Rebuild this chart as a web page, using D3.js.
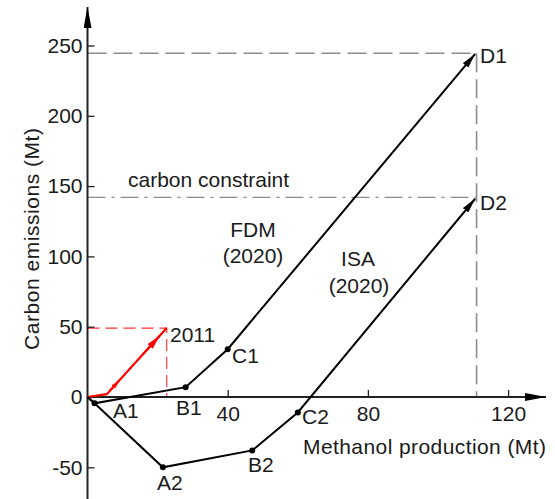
<!DOCTYPE html>
<html><head><meta charset="utf-8">
<script src="https://cdn.jsdelivr.net/npm/d3@7"></script>
<style>body{margin:0;background:#fff}svg{display:block}text{font-family:"Liberation Sans",Arial,sans-serif;fill:#1a1a1a}</style>
</head><body>
<script>
// ---- data ----
const xTicks = [40, 80, 120];
const yTicks = [-50, 0, 50, 100, 150, 200, 250];
const fdmPath = [[0,0],[2,-4.5],[28,7],[40,34],[110.6,244]];
const isaPath = [[0,0],[2,-4.5],[21.5,-50],[47,-38],[60,-11],[110.6,141]];
const path2011 = [[0,0],[5.5,2],[22.6,49]];
const carbonConstraint = 142;
const fdmTarget = [111, 244.5];
const point2011 = [22.6, 49];

const W = 555, H = 499;
const svg = d3.select("body").append("svg").attr("width", W).attr("height", H);
const x = d3.scaleLinear().domain([0, 120]).range([87.5, 508.1]);
const y = d3.scaleLinear().domain([-50, 250]).range([467.3, 45.5]);
const FS = 21;

const defs = svg.append("defs");
function marker(id, color, len, wid) {
  defs.append("marker").attr("id", id).attr("viewBox", `0 0 ${len} ${wid}`)
    .attr("refX", len).attr("refY", wid/2).attr("markerUnits", "userSpaceOnUse")
    .attr("markerWidth", len).attr("markerHeight", wid).attr("orient", "auto")
    .append("path").attr("d", `M0,0L${len},${wid/2}L0,${wid}Z`).attr("fill", color);
}
marker("ab", "#000", 15, 7);
marker("ar", "#f00", 14, 7);
marker("ars", "#f00", 8, 5);
marker("axis", "#000", 21, 8);

// gray dashed reference lines
const gray = "#8c8c8c";
svg.append("line").attr("x1", x(0)).attr("x2", x(fdmTarget[0])).attr("y1", y(fdmTarget[1])).attr("y2", y(fdmTarget[1]))
  .attr("stroke", gray).attr("stroke-width", 1.6).attr("stroke-dasharray", "19,7");
svg.append("line").attr("x1", x(fdmTarget[0])).attr("x2", x(fdmTarget[0])).attr("y1", y(fdmTarget[1])).attr("y2", y(0))
  .attr("stroke", gray).attr("stroke-width", 1.6).attr("stroke-dasharray", "19,7");
svg.append("line").attr("x1", x(0)).attr("x2", x(fdmTarget[0])).attr("y1", y(carbonConstraint)).attr("y2", y(carbonConstraint))
  .attr("stroke", gray).attr("stroke-width", 1.4).attr("stroke-dasharray", "18,6,3,6");

// red dashed lines
svg.append("path").attr("d", `M${x(0)},${y(point2011[1])}H${x(point2011[0])}V${y(0)}`)
  .attr("fill", "none").attr("stroke", "#f33").attr("stroke-width", 1.1).attr("stroke-dasharray", "12,6");

// axes
const yAxis = d3.axisLeft(y).tickValues(yTicks).tickSizeInner(-7).tickSizeOuter(0).tickPadding(5).tickFormat(d => String(d));
const gy = svg.append("g").attr("transform", `translate(${x(0)},0)`).call(yAxis);
gy.select(".domain").remove();
gy.selectAll("line").attr("stroke", "#222").attr("stroke-width", 1.3);
gy.selectAll("text").attr("font-size", FS).attr("fill", "#1a1a1a").attr("font-family", null);

const xAxis = d3.axisBottom(x).tickValues(xTicks).tickSizeInner(-7).tickSizeOuter(0).tickPadding(9).tickFormat(d => String(d));
const gx = svg.append("g").attr("transform", `translate(0,${y(0)})`).call(xAxis);
gx.select(".domain").remove();
gx.selectAll("line").attr("stroke", "#222").attr("stroke-width", 1.3);
gx.selectAll("text").attr("font-size", FS).attr("fill", "#1a1a1a").attr("font-family", null);

svg.append("line").attr("x1", x(0)).attr("x2", x(0)).attr("y1", H).attr("y2", 7)
  .attr("stroke", "#222").attr("stroke-width", 2).attr("marker-end", "url(#axis)");
svg.append("line").attr("x1", x(0)).attr("x2", 546).attr("y1", y(0)).attr("y2", y(0))
  .attr("stroke", "#222").attr("stroke-width", 2).attr("marker-end", "url(#axis)");

// red 2011 path
const line = d3.line().x(d => x(d[0])).y(d => y(d[1]));
svg.append("path").attr("d", line(path2011)).attr("fill", "none").attr("stroke", "#f00").attr("stroke-width", 2.2);
function along(p0, p1, t) { return [p0[0] + (p1[0]-p0[0])*t, p0[1] + (p1[1]-p0[1])*t]; }
{
  const a = path2011[1], b = path2011[2];
  const s1 = along(a, b, 0.05), e1 = along(a, b, 0.2);
  svg.append("line").attr("x1", x(s1[0])).attr("y1", y(s1[1])).attr("x2", x(e1[0])).attr("y2", y(e1[1]))
    .attr("stroke", "#f00").attr("stroke-width", 2).attr("marker-end", "url(#ars)");
  const s2 = along(a, b, 0.6), e2 = along(a, b, 0.88);
  svg.append("line").attr("x1", x(s2[0])).attr("y1", y(s2[1])).attr("x2", x(e2[0])).attr("y2", y(e2[1]))
    .attr("stroke", "#f00").attr("stroke-width", 2).attr("marker-end", "url(#ar)");
}

// black paths
svg.append("path").attr("d", line(fdmPath)).attr("fill", "none").attr("stroke", "#000").attr("stroke-width", 2).attr("marker-end", "url(#ab)");
svg.append("path").attr("d", line(isaPath)).attr("fill", "none").attr("stroke", "#000").attr("stroke-width", 2).attr("marker-end", "url(#ab)");

// dots
const dots = fdmPath.slice(1, 4).concat(isaPath.slice(2, 5));
svg.selectAll("circle.pt").data(dots).enter().append("circle").attr("class", "pt")
  .attr("cx", d => x(d[0])).attr("cy", d => y(d[1])).attr("r", 3).attr("fill", "#000");

// point labels
const lbl = [
  ["A1", 113, 418], ["B1", 176, 415], ["C1", 232, 363], ["D1", 480, 63],
  ["A2", 157, 490], ["B2", 248, 472], ["C2", 302, 424], ["D2", 480, 210],
  ["2011", 170, 342]
];
svg.selectAll("text.pl").data(lbl).enter().append("text").attr("class", "pl")
  .attr("x", d => d[1]).attr("y", d => d[2]).attr("font-size", FS).text(d => d[0]);

function t(str, xx, yy, anchor) {
  return svg.append("text").attr("x", xx).attr("y", yy).attr("font-size", FS).attr("text-anchor", anchor || "start").text(str);
}
t("carbon constraint", 128, 187);
t("FDM", 253, 237, "middle");
t("(2020)", 253, 263, "middle");
t("ISA", 358, 266, "middle");
t("(2020)", 359, 293, "middle");
t("Methanol production (Mt)", 303, 454).attr("textLength", 243);
svg.append("text").attr("transform", `translate(39,239) rotate(-90)`).attr("text-anchor", "middle")
  .attr("font-size", FS).attr("textLength", 222).text("Carbon emissions (Mt)");
</script>
</body></html>
